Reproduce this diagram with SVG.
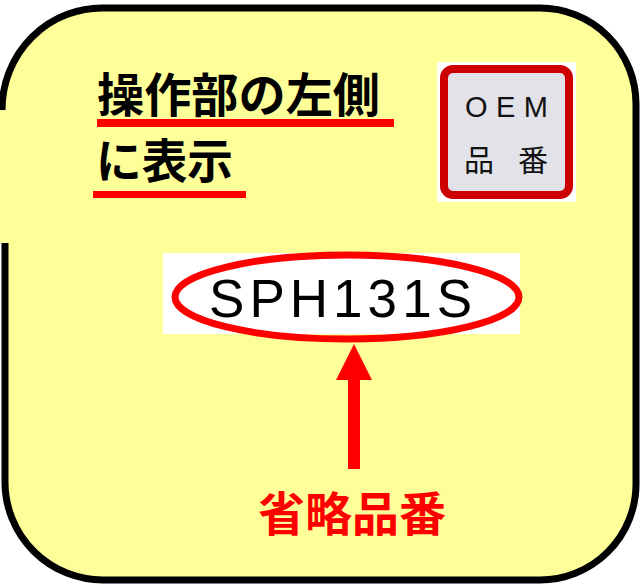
<svg xmlns="http://www.w3.org/2000/svg" width="643" height="587" viewBox="0 0 643 587">
<style>
.jp{font-family:"Noto Sans CJK JP","Noto Sans CJK SC",sans-serif;font-weight:bold}
.ul{fill:#ff0000}
.lat{font-family:"Liberation Sans",Arial,sans-serif}
</style>
<defs>
<marker id="ah" markerWidth="36" markerHeight="36" refX="0" refY="18" orient="auto" markerUnits="userSpaceOnUse">
<path d="M0,0 L36,18 L0,36 Z" fill="#ff0000"/>
</marker>
</defs>
<g id="callout">
<path d="M105,8 L540,8 A96,96 0 0 1 636,104 L636,484 A96,96 0 0 1 540,580 L103,580 A98,98 0 0 1 5,482 L5,243 L-60,240 L-60,125 L2,110 A100,102 0 0 1 105,8 Z" fill="#ffff99"/>
<path d="M5,243 L5,482 A98,98 0 0 0 103,580 L540,580 A96,96 0 0 0 636,484 L636,104 A96,96 0 0 0 540,8 L105,8 A100,102 0 0 0 2,110" fill="none" stroke="#000" stroke-width="7" stroke-linejoin="round" stroke-linecap="butt"/>
</g>
<g id="title">
<text class="jp" x="97" y="112" font-size="47" textLength="283" lengthAdjust="spacingAndGlyphs" fill="#000">操作部の左側</text>
<rect class="ul" x="97" y="119" width="297" height="8"/>
<text class="jp" x="96" y="178" font-size="47" textLength="137" lengthAdjust="spacingAndGlyphs" fill="#000">に表示</text>
<rect class="ul" x="93" y="191" width="153" height="7"/>
</g>
<g id="oem-badge">
<rect x="437" y="62" width="139" height="140" fill="#ffffff"/>
<rect x="444" y="69" width="125" height="126" rx="9" fill="#e2e2e8" stroke="#cc0000" stroke-width="8"/>
<text class="lat" x="465" y="117" font-size="29" textLength="83" lengthAdjust="spacing" fill="#111">OEM</text>
<text x="464" y="171" font-family="Noto Sans CJK JP, sans-serif" font-size="30" fill="#111">品</text>
<text x="518" y="171" font-family="Noto Sans CJK JP, sans-serif" font-size="30" fill="#111">番</text>
</g>
<g id="model">
<rect x="163" y="253" width="357" height="81" fill="#ffffff"/>
<ellipse cx="347" cy="297" rx="172" ry="42" fill="none" stroke="#ff0000" stroke-width="7"/>
<text class="lat" x="209" y="317" font-size="53" textLength="263" lengthAdjust="spacing" fill="#000">SPH131S</text>
</g>
<g id="connectors">
<line x1="354" y1="469" x2="354" y2="380" stroke="#ff0000" stroke-width="12" marker-end="url(#ah)"/>
</g>
<g id="label">
<text class="jp" x="258" y="531" font-size="47" textLength="188" lengthAdjust="spacingAndGlyphs" fill="#ff0000">省略品番</text>
</g>
</svg>
